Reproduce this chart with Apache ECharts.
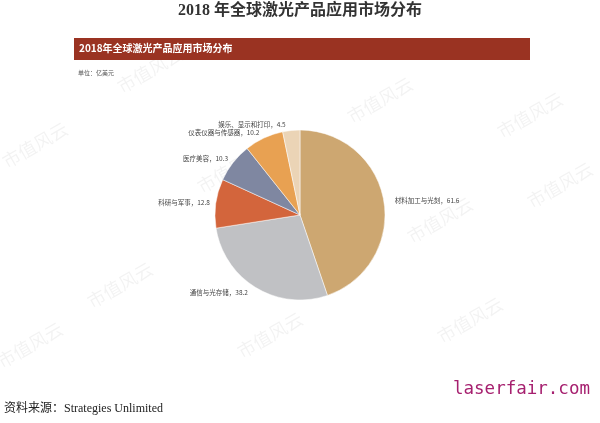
<!DOCTYPE html>
<html><head><meta charset="utf-8">
<script src="https://cdn.jsdelivr.net/npm/echarts@6/dist/echarts.min.js"></script>
<style>html,body{margin:0;padding:0;background:#fff}#c{width:600px;height:423px}</style>
</head><body><div id="c"></div>
<script>
const categories = ['材料加工与光刻','通信与光存储','科研与军事','医疗美容','仪表仪器与传感器','娱乐、显示和打印'];
const values = [61.6, 38.2, 12.8, 10.3, 10.2, 4.5];
const colors = ['#CDA771','#C0C1C4','#D3653C','#7F87A1','#E8A152','#EBD4B6'];

const wm = [[35,145],[150,70],[530,115],[560,185],[440,220],[120,285],[30,345],[270,335],[380,100],[470,320],[230,170]];
const chart = echarts.init(document.getElementById('c'));
chart.setOption({
  backgroundColor: '#fff',
  animation: false,
  graphic: [
    ...wm.map(([x,y])=>({type:'text', x:x, y:y, rotation:Math.PI/6, z:-1, style:{text:'市值风云', font:'18px "Noto Sans CJK SC",sans-serif', fill:'rgba(0,0,0,0.05)', align:'center', verticalAlign:'middle'}})),
    {type:'text', left:'center', top:3, style:{text:'2018 年全球激光产品应用市场分布', font:'bold 16px "Liberation Serif","Noto Sans CJK SC",serif', fill:'#333'}},
    {type:'rect', shape:{x:74, y:38, width:456, height:22}, style:{fill:'#9A3322'}},
    {type:'text', x:79, y:43, style:{text:'2018年全球激光产品应用市场分布', font:'bold 10px "Noto Sans CJK SC",sans-serif', fill:'#fff'}},
    {type:'text', x:78, y:70, style:{text:'单位：亿美元', font:'6px "Noto Sans CJK SC",sans-serif', fill:'#555'}},
    {type:'text', x:4, y:403, style:{text:'资料来源：Strategies Unlimited', font:'12px "Liberation Serif","Noto Sans CJK SC",serif', fill:'#222'}},
    {type:'text', x:453, y:380, style:{text:'laserfair.com', font:'17.5px "DejaVu Sans Mono",monospace', fill:'#A6206F'}}
  ],
  series: [{
    type: 'pie',
    center: [300, 215],
    radius: 85,
    startAngle: 90,
    clockwise: true,
    color: colors,
    itemStyle: {borderColor:'#fff', borderWidth:0.5},
    label: {show:true, position:'outside', formatter: p => p.name + '，' + p.value, fontSize:6.5, color:'#444', fontFamily:'"Noto Sans CJK SC",sans-serif'},
    labelLine: {show:false, length:6, length2:0},
    data: categories.map((n,i)=>({name:n, value:values[i]}))
  }]
});
</script></body></html>
